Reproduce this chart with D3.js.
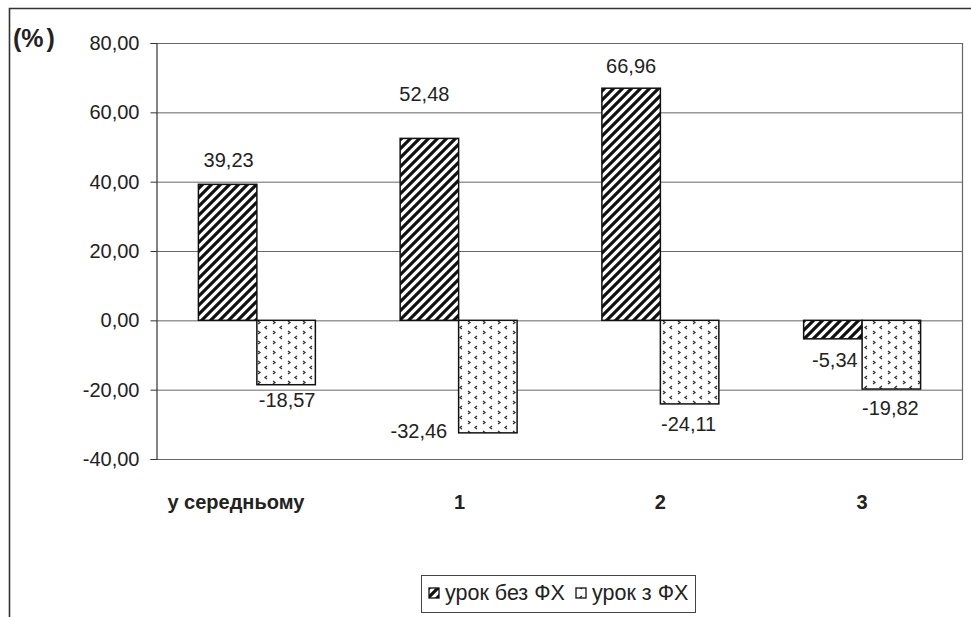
<!DOCTYPE html>
<html>
<head>
<meta charset="utf-8">
<script src="https://cdn.jsdelivr.net/npm/d3@7"></script>
<style>
  html, body { margin: 0; padding: 0; background: #fff; }
  svg { display: block; font-family: "Liberation Sans", Arial, sans-serif; }
</style>
</head>
<body>
<svg id="chart" width="971" height="617"></svg>
<script>
// ---- data ----
const categories = ["у середньому", "1", "2", "3"];
const seriesNames = ["урок без ФХ", "урок з ФХ"];
const withoutFX = [39.23, 52.48, 66.96, -5.34];
const withFX = [-18.57, -32.46, -24.11, -19.82];
const yTicks = [-40, -20, 0, 20, 40, 60, 80];
const yUnit = "(%)";

// label nudges (layout only): [dx, dy] relative to bar centre / bar end
const labelNudge = [
  [[1, -17], [-5, -37], [0, -15], [2, 28]],
  [[1, 22], [-69, 5], [-1, 27], [-1, 26]]
];

const svg = d3.select("#chart");
const plotL = 156, plotR = 963, plotT = 43, plotB = 459;

const fmt = v => d3.format(".2f")(v).replace(".", ",").replace("\u2212", "-");

// patterns
const defs = svg.append("defs");
const p1 = defs.append("pattern").attr("id", "diag").attr("patternUnits", "userSpaceOnUse")
  .attr("width", 9).attr("height", 9);
p1.append("rect").attr("width", 9).attr("height", 9).attr("fill", "#fff");
p1.append("path").attr("d", "M-2,2 L2,-2 M0,9 L9,0 M7,11 L11,7")
  .attr("stroke", "#111").attr("stroke-width", 3.2);

const p2 = defs.append("pattern").attr("id", "dots").attr("patternUnits", "userSpaceOnUse")
  .attr("width", 15).attr("height", 10);
p2.append("rect").attr("width", 15).attr("height", 10).attr("fill", "#fff");
p2.append("path").attr("d", "M3,1 L5,2.5 L3,4 M12,6 L10,7.5 L12,9")
  .attr("stroke", "#333").attr("stroke-width", 1.3).attr("fill", "none");

// outer frame
svg.append("path").attr("d", `M9.5,617 L9.5,8.5 L971,8.5`)
  .attr("fill", "none").attr("stroke", "#333").attr("stroke-width", 1.6);

// scales
const x = d3.scaleBand().domain(categories).range([plotL, plotR]).paddingInner(0).paddingOuter(0);
const y = d3.scaleLinear().domain([-40, 80]).range([plotB, plotT]);
const barW = x.bandwidth() / 3.45;
const xs = d3.scaleBand().domain([0, 1]).range([-barW, barW]).padding(0);

// gridlines
svg.append("g").attr("transform", `translate(${plotL},0)`)
  .call(d3.axisLeft(y).tickValues(yTicks).tickSize(-(plotR - plotL)).tickFormat(""))
  .call(g => g.select(".domain").remove())
  .call(g => g.selectAll("line").attr("stroke", "#666").attr("stroke-width", 1));

// plot border (top & right)
svg.append("path").attr("d", `M${plotL},${plotT + 0.5} L${plotR - 0.5},${plotT + 0.5} L${plotR - 0.5},${plotB}`)
  .attr("fill", "none").attr("stroke", "#666").attr("stroke-width", 1.2);

// y axis
const yAxis = svg.append("g").attr("transform", `translate(${plotL + 0.5},0)`)
  .call(d3.axisLeft(y).tickValues(yTicks).tickSize(6).tickPadding(11).tickFormat(fmt));
yAxis.select(".domain").attr("stroke", "#333").attr("stroke-width", 1.2);
yAxis.selectAll("line").attr("stroke", "#333");
yAxis.selectAll("text").attr("font-size", 20).attr("fill", "#222")
  .attr("font-family", "'Liberation Sans', Arial, sans-serif");

// bars
const series = [withoutFX, withFX];
const fills = ["url(#diag)", "url(#dots)"];
series.forEach((vals, si) => {
  svg.append("g").selectAll("rect").data(vals).join("rect")
    .attr("x", (d, i) => x(categories[i]) + x.bandwidth() / 2 + xs(si))
    .attr("width", barW)
    .attr("y", d => y(Math.max(0, d)))
    .attr("height", d => Math.abs(y(d) - y(0)))
    .attr("fill", fills[si])
    .attr("stroke", "#111").attr("stroke-width", 1.5);
});

// value labels
series.forEach((vals, si) => {
  svg.append("g").selectAll("text").data(vals).join("text")
    .attr("x", (d, i) => x(categories[i]) + x.bandwidth() / 2 + xs(si) + barW / 2 + labelNudge[si][i][0])
    .attr("y", (d, i) => y(d) + labelNudge[si][i][1])
    .attr("text-anchor", "middle")
    .attr("font-size", 20).attr("fill", "#222")
    .text(fmt);
});

// category labels
const catNudge = [-21, 1, 0, 0];
svg.append("g").selectAll("text").data(categories).join("text")
  .attr("x", (d, i) => x(d) + x.bandwidth() / 2 + catNudge[i])
  .attr("y", 509)
  .attr("text-anchor", "middle")
  .attr("font-size", 20).attr("font-weight", "bold").attr("fill", "#222")
  .text(d => d);

// unit label
const unitText = svg.append("text").attr("x", 13).attr("y", 47)
  .attr("font-size", 25).attr("font-weight", "bold").attr("fill", "#222");
unitText.append("tspan").text(yUnit.slice(0, 2));
unitText.append("tspan").attr("dx", 3).text(yUnit.slice(2));

// legend
const lg = svg.append("g");
lg.append("rect").attr("x", 421.5).attr("y", 575.5).attr("width", 274).attr("height", 37)
  .attr("fill", "#fff").attr("stroke", "#444").attr("stroke-width", 1);
const legendX = [429, 576];
seriesNames.forEach((name, i) => {
  lg.append("rect").attr("x", legendX[i]).attr("y", 588).attr("width", 10).attr("height", 10)
    .attr("fill", i === 0 ? "url(#diag)" : "url(#dots)").attr("stroke", "#111").attr("stroke-width", 1.3);
  lg.append("text").attr("x", legendX[i] + 16).attr("y", 600)
    .attr("font-size", 21.5).attr("fill", "#222").text(name);
});
</script>
</body>
</html>
